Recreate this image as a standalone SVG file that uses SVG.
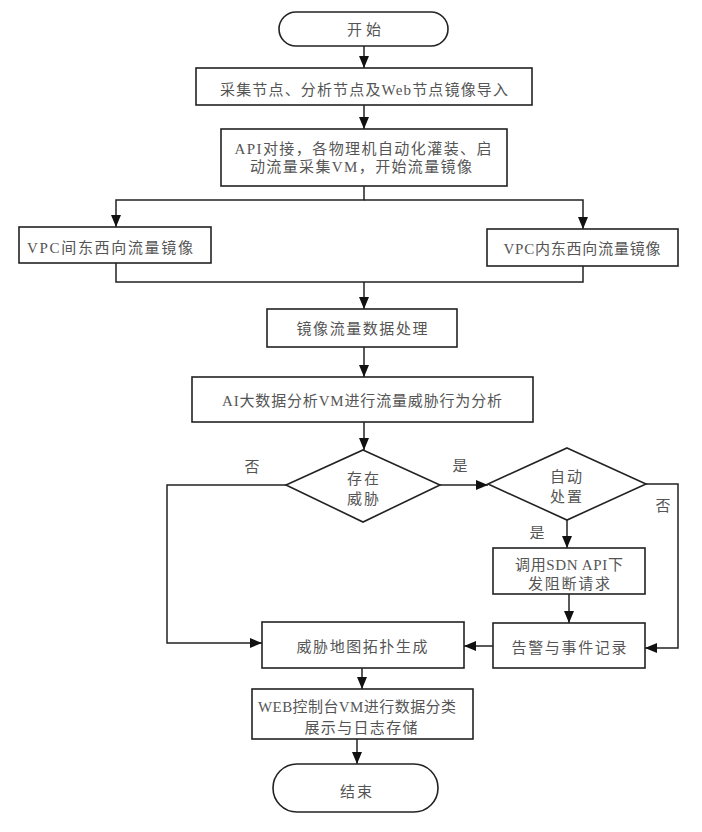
<svg xmlns="http://www.w3.org/2000/svg" width="702" height="832" viewBox="0 0 702 832">
<style>
.n{fill:#fff;stroke:#222;stroke-width:1.6}
.t{font-family:"Liberation Serif","Noto Sans CJK SC",serif;font-size:15px;fill:#555;text-anchor:middle}
.c{fill:none;stroke:#222;stroke-width:1.5}
</style>
<defs>
<marker id="ah" markerUnits="userSpaceOnUse" markerWidth="12" markerHeight="10" refX="12" refY="5" orient="auto">
<path d="M0,0 L12,5 L0,10 z" fill="#111"/>
</marker>
</defs>
<rect width="702" height="832" fill="#fff"/>
<g id="connectors">
<path class="c" d="M364,46 V68" marker-end="url(#ah)"/>
<path class="c" d="M364,105 V129" marker-end="url(#ah)"/>
<path class="c" d="M364,186 V200 H116 V227" marker-end="url(#ah)"/>
<path class="c" d="M364,200 H583 V229" marker-end="url(#ah)"/>
<path class="c" d="M116,263 V282 H583 V266"/>
<path class="c" d="M364,282 V309" marker-end="url(#ah)"/>
<path class="c" d="M364,347 V377" marker-end="url(#ah)"/>
<path class="c" d="M364,422 V450" marker-end="url(#ah)"/>
<path class="c" d="M286,485 H167 V643 H262" marker-end="url(#ah)"/>
<path class="c" d="M440,485 H488" marker-end="url(#ah)"/>
<path class="c" d="M567,520 V548" marker-end="url(#ah)"/>
<path class="c" d="M646,484 H678 V648 H645" marker-end="url(#ah)"/>
<path class="c" d="M569,594 V623" marker-end="url(#ah)"/>
<path class="c" d="M493,646 H464" marker-end="url(#ah)"/>
<path class="c" d="M362,668 V689" marker-end="url(#ah)"/>
<path class="c" d="M357,739 V764" marker-end="url(#ah)"/>
</g>
<g id="labels">
<text class="t" x="252" y="472">否</text>
<text class="t" x="460" y="471">是</text>
<text class="t" x="663" y="511">否</text>
<text class="t" x="537" y="538">是</text>
</g>
<g id="start">
<rect class="n" x="279" y="12" width="169" height="34" rx="17"/>
<text class="t" x="364" y="35" textLength="34" lengthAdjust="spacing">开始</text>
</g>
<g id="import">
<rect class="n" x="196" y="68" width="336" height="37"/>
<text class="t" x="364" y="95" textLength="288" lengthAdjust="spacing">采集节点、分析节点及Web节点镜像导入</text>
</g>
<g id="api">
<rect class="n" x="221" y="129" width="286" height="57"/>
<text class="t" x="363" y="154" textLength="257" lengthAdjust="spacing">API对接，各物理机自动化灌装、启</text>
<text class="t" x="361" y="172" textLength="222" lengthAdjust="spacing">动流量采集VM，开始流量镜像</text>
</g>
<g id="vpc-inter">
<rect class="n" x="19" y="227" width="192" height="36"/>
<text class="t" x="110" y="253" textLength="166" lengthAdjust="spacing">VPC间东西向流量镜像</text>
</g>
<g id="vpc-intra">
<rect class="n" x="487" y="229" width="191" height="37"/>
<text class="t" x="582" y="254" textLength="157" lengthAdjust="spacing">VPC内东西向流量镜像</text>
</g>
<g id="process">
<rect class="n" x="267" y="309" width="190" height="38"/>
<text class="t" x="362" y="334" textLength="131" lengthAdjust="spacing">镜像流量数据处理</text>
</g>
<g id="ai">
<rect class="n" x="192" y="377" width="341" height="45"/>
<text class="t" x="362" y="406" textLength="280" lengthAdjust="spacing">AI大数据分析VM进行流量威胁行为分析</text>
</g>
<g id="threat">
<polygon class="n" points="363,450 440,485 363,522 286,485"/>
<text class="t" x="363" y="484" textLength="32" lengthAdjust="spacing">存在</text>
<text class="t" x="363" y="504" textLength="32" lengthAdjust="spacing">威胁</text>
</g>
<g id="auto">
<polygon class="n" points="567,448 646,484 567,520 488,484"/>
<text class="t" x="566" y="482" textLength="32" lengthAdjust="spacing">自动</text>
<text class="t" x="566" y="502" textLength="32" lengthAdjust="spacing">处置</text>
</g>
<g id="sdn">
<rect class="n" x="493" y="548" width="152" height="46"/>
<text class="t" x="569" y="570" textLength="108" lengthAdjust="spacing">调用SDN API下</text>
<text class="t" x="569" y="589" textLength="82" lengthAdjust="spacing">发阻断请求</text>
</g>
<g id="alarm">
<rect class="n" x="493" y="623" width="152" height="45"/>
<text class="t" x="569" y="653" textLength="115" lengthAdjust="spacing">告警与事件记录</text>
</g>
<g id="map">
<rect class="n" x="262" y="622" width="202" height="46"/>
<text class="t" x="362" y="652" textLength="131" lengthAdjust="spacing">威胁地图拓扑生成</text>
</g>
<g id="web">
<rect class="n" x="252" y="689" width="221" height="50"/>
<text class="t" x="357" y="712" textLength="198" lengthAdjust="spacing">WEB控制台VM进行数据分类</text>
<text class="t" x="361" y="733" textLength="113" lengthAdjust="spacing">展示与日志存储</text>
</g>
<g id="end">
<rect class="n" x="273" y="764" width="165" height="48" rx="24"/>
<text class="t" x="356" y="797" textLength="32" lengthAdjust="spacing">结束</text>
</g>
</svg>
